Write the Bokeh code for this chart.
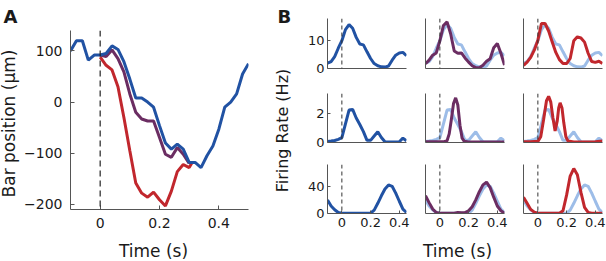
import math
from bokeh.plotting import figure
from bokeh.models import Span, Range1d, FixedTicker, Label
from bokeh.layouts import row, column
from bokeh.embed import file_html
from bokeh.resources import INLINE

FONT = "DejaVu Sans"
BLUE = "#2152a3"
RED = "#c1272d"
PURPLE = "#6b2d62"
LIGHT = "#9dbde8"
AXC = "#555555"
TXT = "#1a1a1a"

# ---------------- Panel A data: bar position (um) vs time (s) ----------------
a_time = [-0.1, -0.08, -0.06, -0.04, -0.02, 0.0, 0.02, 0.04, 0.06, 0.08, 0.1,
          0.12, 0.14, 0.16, 0.18, 0.2, 0.22, 0.24, 0.26, 0.28, 0.3, 0.32, 0.34,
          0.36, 0.38, 0.4, 0.42, 0.44, 0.46, 0.48, 0.5]
a_blue = [100, 120, 120, 82, 92, 92, 95, 110, 103, 79, 45,
          8, 8, 0, -10, -46, -80, -92, -82, -92, -118, -118, -128,
          -105, -86, -53, -10, 0, 16, 55, 75]
a_purple_time = [0.0, 0.02, 0.04, 0.06, 0.08, 0.1, 0.12, 0.14, 0.16, 0.18,
                 0.2, 0.22, 0.24, 0.26, 0.28, 0.3]
a_purple = [92, 89, 102, 85, 59, 16, -20, -33, -37, -37,
            -69, -102, -108, -89, -102, -120]
a_red_time = [0.0, 0.02, 0.04, 0.06, 0.08, 0.1, 0.12, 0.14, 0.16, 0.18,
              0.2, 0.22, 0.24, 0.26, 0.28, 0.3, 0.31]
a_red = [88, 72, 63, 30, -30, -95, -158, -178, -186, -176,
         -191, -203, -174, -136, -122, -128, -118]
a_xticks = [0, 0.2, 0.4]
a_yticks = [-200, -100, 0, 100]

# ---------------- Panel B data: firing rate (Hz) vs time (s) ----------------
b_time = [-0.1, -0.075, -0.05, -0.025, 0.0, 0.025, 0.05, 0.075, 0.1, 0.125,
          0.15, 0.175, 0.2, 0.225, 0.25, 0.275, 0.3, 0.325, 0.35, 0.375,
          0.4, 0.425, 0.45]

# row 1
r1_blue = [1.9, 2.5, 4.3, 7.3, 10.0, 14.0, 15.8, 14.5, 11.2, 8.8,
           8.5, 6.0, 3.6, 1.8, 1.0, 0.6, 0.5, 0.9, 3.0, 4.8,
           5.6, 5.8, 4.6]
r1_purple = [1.7, 3.0, 4.8, 5.6, 10.0, 15.5, 16.8, 12.5, 6.3, 5.5,
             5.6, 3.8, 2.3, 1.0, 0.3, 0.3, 1.2, 2.6, 3.5, 7.5,
             9.0, 5.5, 1.2]
r1_red = [1.1, 2.3, 4.0, 6.6, 10.2, 16.2, 16.2, 13.5, 9.5, 5.8,
          3.2, 1.8, 1.8, 3.6, 10.0, 11.4, 11.0, 9.5, 5.5, 2.5,
          2.2, 2.6, 1.8]

# row 2
r2_blue = [0.07, 0.1, 0.14, 0.22, 0.33, 1.3, 2.25, 2.3, 1.7, 1.25,
           0.75, 0.15, 0.15, 0.45, 0.75, 0.35, 0.05, 0.03, 0.03, 0.03,
           0.05, 0.3, 0.12]
r2_purple_time = [-0.1, -0.05, 0.0, 0.03, 0.05, 0.065, 0.08, 0.095, 0.11,
                  0.125, 0.14, 0.155, 0.17, 0.2, 0.25, 0.3, 0.35, 0.4, 0.45]
r2_purple = [0.05, 0.05, 0.05, 0.06, 0.12, 0.6, 1.6, 2.7, 3.1,
             2.6, 1.2, 0.3, 0.08, 0.03, 0.03, 0.03, 0.03, 0.03, 0.03]
r2_red_time = [-0.1, -0.05, 0.0, 0.02, 0.04, 0.06, 0.075, 0.09, 0.105, 0.12,
               0.135, 0.145, 0.155, 0.168, 0.18, 0.195, 0.21, 0.25, 0.3,
               0.35, 0.4, 0.45]
r2_red = [0.05, 0.05, 0.08, 0.4, 1.6, 2.9, 3.2, 2.8, 1.7, 0.8,
          1.5, 2.4, 2.75, 2.4, 1.4, 0.4, 0.1, 0.03, 0.03,
          0.03, 0.05, 0.1]

# row 3
r3_blue = [20, 11, 5.5, 1.5, 0.4, 0.4, 0.4, 0.4, 0.4, 0.4,
           0.4, 0.4, 0.4, 5.0, 15, 26, 36, 42, 40, 30,
           18, 6.5, 1.5]
r3_purple = [26, 16, 6.5, 1.5, 0.4, 0.4, 0.4, 0.4, 0.4, 1.5,
             1.0, 1.2, 4.0, 10, 20, 32, 42, 46, 38, 24,
             11, 4.0, 0.5]
r3_red = [24, 15, 6.0, 2.0, 0.4, 0.4, 0.4, 0.4, 0.4, 0.4,
          0.4, 4.0, 27, 55, 66, 57, 31, 9.0, 1.5, 0.4,
          0.4, 0.4, 0.4]

b_rows = [
    dict(ymax=18, yticks=[0, 10],
         curves=[(b_time, r1_blue, BLUE), (b_time, r1_purple, PURPLE), (b_time, r1_red, RED)]),
    dict(ymax=3.4, yticks=[0, 2],
         curves=[(b_time, r2_blue, BLUE), (r2_purple_time, r2_purple, PURPLE), (r2_red_time, r2_red, RED)]),
    dict(ymax=72, yticks=[0, 40],
         curves=[(b_time, r3_blue, BLUE), (b_time, r3_purple, PURPLE), (b_time, r3_red, RED)]),
]
b_xticks = [0, 0.2, 0.4]
tick_names = {0: "0", 0.2: "0.2", 0.4: "0.4"}


def style_axes(p, size):
    for ax in (p.xaxis[0], p.yaxis[0]):
        ax.axis_line_color = AXC
        ax.axis_line_width = 1
        ax.major_tick_line_color = AXC
        ax.major_tick_in = 3
        ax.major_tick_out = 0
        ax.minor_tick_line_color = None
        ax.axis_label_standoff = 0
        ax.major_label_text_font = FONT
        ax.major_label_text_font_size = size
        ax.major_label_text_color = TXT
    p.xgrid.visible = False
    p.ygrid.visible = False
    p.outline_line_color = None
    p.background_fill_color = "white"
    p.border_fill_color = "white"


def strip(w, h):
    """A blank figure whose frame is the whole strip, used to hold free text."""
    s = figure(width=w, height=h, x_range=Range1d(0, w), y_range=Range1d(0, h),
               output_backend="svg", toolbar_location=None,
               x_axis_location=None, y_axis_location=None,
               min_border=0, min_border_left=0, min_border_right=0,
               min_border_top=0, min_border_bottom=0)
    s.xgrid.visible = False
    s.ygrid.visible = False
    s.outline_line_color = None
    s.background_fill_color = "white"
    s.border_fill_color = "white"
    return s


def label(p, x, y, text, size, angle=0.0, bold=False, align="center", baseline="middle"):
    p.add_layout(Label(x=x, y=y, text=text, angle=angle, text_font=FONT,
                       text_font_size=size, text_color=TXT,
                       text_font_style="bold" if bold else "normal",
                       text_align=align, text_baseline=baseline))


# ---------------- Panel A figure ----------------
pa = figure(width=253, height=236, x_range=Range1d(-0.1, 0.5), y_range=Range1d(-210, 140),
            output_backend="svg", toolbar_location=None,
            min_border_left=50, min_border_right=25, min_border_top=30, min_border_bottom=27)
style_axes(pa, "14px")
pa.xaxis.ticker = FixedTicker(ticks=a_xticks)
pa.xaxis.major_label_overrides = tick_names
pa.yaxis.ticker = FixedTicker(ticks=a_yticks)
pa.xaxis.major_label_standoff = 8
pa.yaxis.major_label_standoff = 8
pa.xaxis.major_tick_in = 4
pa.yaxis.major_tick_in = 4

pa.add_layout(Span(location=0, dimension="height", line_color="#222222",
                   line_width=1.2, line_dash="6 4"))
pa.line(a_red_time, a_red, line_color=RED, line_width=3)
pa.line(a_purple_time, a_purple, line_color=PURPLE, line_width=3)
pa.line(a_time, a_blue, line_color=BLUE, line_width=3)

# text strips (coordinates are pixels inside each strip, y measured from the bottom)
sa_left = strip(20, 261)
label(sa_left, 3, 245, "A", "18px", bold=True, align="left", baseline="alphabetic")
label(sa_left, 8.5, 138, "Bar position (µm)", "17px", angle=math.pi / 2)

sa_bottom = strip(253, 25)
label(sa_bottom, 118, 11, "Time (s)", "17px")

sb_left = strip(27, 261)
label(sb_left, 4, 245, "B", "18px", bold=True, align="left", baseline="alphabetic")
label(sb_left, 9, 131, "Firing Rate (Hz)", "16px", angle=math.pi / 2)

sb_bottom = strip(306, 25)
label(sb_bottom, 157, 11, "Time (s)", "17px")

# ---------------- Panel B figures ----------------
col_w = [113, 98, 95]
col_l = [27, 12, 12]
col_r = [7, 7, 4]
row_h = [80, 74, 82]
row_t = [18, 13, 10]
row_b = [12, 12, 23]

rows = []
for ri, rd in enumerate(b_rows):
    figs = []
    ref_t, ref_v, _ = rd["curves"][0]
    for ci in range(3):
        p = figure(width=col_w[ci], height=row_h[ri],
                   x_range=Range1d(-0.1, 0.45), y_range=Range1d(0, rd["ymax"]),
                   output_backend="svg", toolbar_location=None,
                   min_border_left=col_l[ci], min_border_right=col_r[ci],
                   min_border_top=row_t[ri], min_border_bottom=row_b[ri])
        style_axes(p, "13px")
        if ci == 0:
            p.yaxis.ticker = FixedTicker(ticks=rd["yticks"])
            p.yaxis.major_label_standoff = 3
        else:
            p.yaxis.ticker = FixedTicker(ticks=[])
            p.yaxis.major_label_text_font_size = "0px"
        if ri == 2:
            p.xaxis.ticker = FixedTicker(ticks=b_xticks)
            p.xaxis.major_label_overrides = tick_names
            p.xaxis.major_label_standoff = 4
        else:
            p.xaxis.ticker = FixedTicker(ticks=[])
            p.xaxis.major_label_text_font_size = "0px"
        p.add_layout(Span(location=0, dimension="height", line_color="#333333",
                          line_width=1, line_dash="4 3"))
        if ci > 0:
            p.line(ref_t, ref_v, line_color=LIGHT, line_width=3)
        t, v, colr = rd["curves"][ci]
        p.line(t, v, line_color=colr, line_width=3)
        figs.append(p)
    rows.append(row(*figs, spacing=0))

layout = row(sa_left,
             column(pa, sa_bottom, spacing=0),
             sb_left,
             column(*rows, sb_bottom, spacing=0),
             spacing=0)

open("out.html", "w").write(file_html(layout, INLINE))
